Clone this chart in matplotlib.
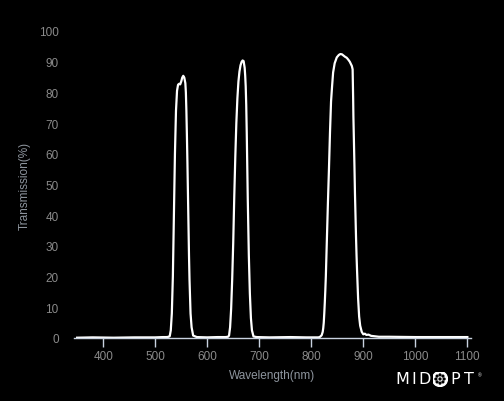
import matplotlib
matplotlib.use("Agg")
import matplotlib.pyplot as plt
from matplotlib.patches import Circle

# transmission curve (wavelength nm, transmission %)
wavelength = [350, 380, 420, 460, 500, 515, 522, 526, 528, 530, 532, 534, 536, 538,
              540, 542, 544, 546, 548, 550, 552, 554, 556, 558, 559, 560, 561, 562,
              563, 564, 565, 566, 568, 570, 573, 580, 600, 620, 635,
              640, 642, 644, 646, 648, 650, 652, 654, 656, 658, 660, 662, 664, 666,
              668, 670, 672, 673, 674, 675, 676, 677, 678, 680, 682, 684, 686, 689,
              695, 720, 760, 790, 805, 814, 817, 820, 822, 823, 824, 825, 826, 827,
              828, 830, 832, 834, 836, 838, 840, 842, 845, 849, 853, 856, 859, 862,
              865, 868, 871, 874, 876, 878, 879.5, 880.5, 881, 882, 883, 884, 885,
              886, 887, 888, 890, 892, 894, 897, 900, 903, 906, 910, 915, 920, 930,
              950, 1000, 1050, 1100]
transmission = [0.1, 0.2, 0.1, 0.2, 0.2, 0.3, 0.3, 0.4, 0.6, 2.5, 8, 20, 40, 60,
                74, 80.5, 82.5, 82.8, 82.6, 83.5, 84.8, 85.4, 84.8, 83, 80, 74, 66, 57,
                47, 37, 27, 19, 8, 3.5, 0.8, 0.3, 0.2, 0.3, 0.3,
                0.4, 0.8, 3.5, 9.5, 19, 31, 46, 59, 70, 78, 83.5, 86.8, 88.8, 89.9,
                90.4, 90.2, 88, 85.5, 82, 76, 67, 56, 45, 27, 14.5, 6.5, 2.5, 0.5,
                0.3, 0.2, 0.3, 0.2, 0.2, 0.2, 0.4, 0.9, 2.0, 3.2, 5, 8, 11.5, 15.5,
                20, 32, 44, 55, 67, 77, 82, 86.5, 89.5, 91.4, 92.2, 92.5, 92.4, 92,
                91.6, 91.3, 90.7, 90, 89.3, 88.6, 87.5, 78, 72, 64, 56, 47, 40,
                33, 27, 22, 13, 7, 4, 2, 1.2, 1.4, 1.0, 1.1, 0.7, 0.6, 0.4,
                0.4, 0.3, 0.3, 0.3]

xticks = [400, 500, 600, 700, 800, 900, 1000, 1100]
yticks = [0, 10, 20, 30, 40, 50, 60, 70, 80, 90, 100]

tick_color = "#8a8a8a"
label_color = "#8e959e"
axis_color = "#c8d2e0"

plt.rcParams["font.family"] = ["Liberation Sans", "DejaVu Sans"]

fig = plt.figure(figsize=(5.04, 4.02), dpi=100, facecolor="black")
ax = fig.add_axes([74 / 504, 63 / 402, 397 / 504, 307 / 402], facecolor="black")

ax.plot(wavelength, transmission, color="white", lw=1.6, solid_joinstyle="round")

ax.set_xlim(344, 1107)
ax.set_ylim(0, 100)
ax.set_xticks(xticks)
ax.set_yticks(yticks)

for s in ["top", "right", "left"]:
    ax.spines[s].set_visible(False)
ax.spines["bottom"].set_color(axis_color)
ax.spines["bottom"].set_linewidth(1.0)

ax.tick_params(axis="x", colors=axis_color, length=6.5, width=1, pad=2,
               labelsize=8.5, labelcolor=tick_color)
ax.tick_params(axis="y", length=0, pad=11, labelsize=8.5, labelcolor=tick_color)

ax.set_xlabel("Wavelength(nm)", fontsize=8.5, color=label_color)
ax.set_ylabel("Transmission(%)", fontsize=8.5, color=label_color)
ax.xaxis.set_label_coords(0.5, -0.10)
ax.yaxis.set_label_coords(-0.108, 0.5)

# MIDOPT logo, letters placed one by one for the wide spacing
logo_y = 1 - 380 / 402
for letter, px in [("M", 402), ("I", 414), ("D", 424.5), ("P", 455), ("T", 469)]:
    fig.text(px / 504, logo_y, letter, color="white", fontsize=11.5,
             family="DejaVu Sans", ha="center", va="center")
fig.text(480 / 504, 1 - 376 / 402, "®", color="white", fontsize=3.5,
         ha="center", va="center")
lax = fig.add_axes([432.5 / 504, 1 - 388 / 402, 15 / 504, 16 / 402])
lax.set_xlim(-1, 1)
lax.set_ylim(-1, 1)
lax.set_aspect("equal")
lax.axis("off")
lax.add_patch(Circle((0, 0), 1.0, color="white"))
for cx, cy in [(0, 0), (0.55, 0), (-0.55, 0), (0, 0.55), (0, -0.55),
               (0.39, 0.39), (-0.39, 0.39), (0.39, -0.39), (-0.39, -0.39)]:
    lax.add_patch(Circle((cx, cy), 0.12, color="black"))

fig.savefig("out.png", dpi=100, facecolor="black")
